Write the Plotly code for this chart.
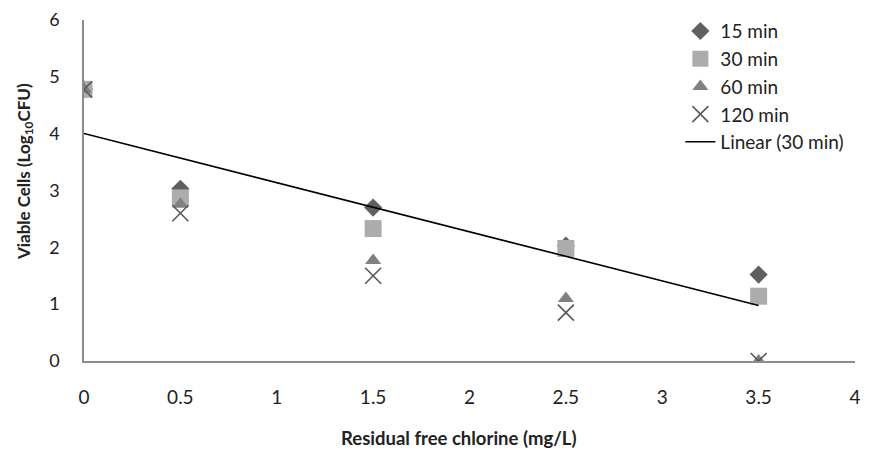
import numpy as np
import plotly.graph_objects as go

chlorine = [0, 0.5, 1.5, 2.5, 3.5]
min15 = [4.78, 3.03, 2.70, 2.03, 1.52]
min30 = [4.78, 2.87, 2.33, 1.98, 1.14]
min60 = [4.78, 2.76, 1.77, 1.10, 0.0]
min120 = [4.78, 2.60, 1.50, 0.85, 0.0]

x_ticks = [0, 0.5, 1, 1.5, 2, 2.5, 3, 3.5, 4]
x_tick_text = ["0", "0.5", "1", "1.5", "2", "2.5", "3", "3.5", "4"]
y_ticks = [0, 1, 2, 3, 4, 5, 6]

x_title = "<b>Residual free chlorine (mg/L)</b>"
y_title = "<b>Viable Cells (Log<sub>10</sub>CFU)</b>"

slope, intercept = np.polyfit(chlorine, min30, 1)
fit_x = [chlorine[0], chlorine[-1]]
fit_y = [intercept + slope * v for v in fit_x]

FONT = "Lato, 'Open Sans', sans-serif"

fig = go.Figure()
fig.add_trace(go.Scatter(x=chlorine, y=min15, mode="markers", name="15 min",
                         marker=dict(symbol="diamond", size=14, color="#5f5f5f")))
fig.add_trace(go.Scatter(x=chlorine, y=min30, mode="markers", name="30 min",
                         marker=dict(symbol="square", size=17, color="#acacac")))
fig.add_trace(go.Scatter(x=chlorine, y=min60, mode="markers", name="60 min",
                         marker=dict(symbol="triangle-up", size=14, color="#808080")))
fig.add_trace(go.Scatter(x=chlorine, y=min120, mode="markers", name="120 min",
                         marker=dict(symbol="x-thin", size=16,
                                     line=dict(color="#595959", width=1.6))))
fig.add_trace(go.Scatter(x=fit_x, y=fit_y, mode="lines", name="Linear (30 min)",
                         line=dict(color="black", width=1.6)))

fig.update_layout(
    width=874, height=459,
    margin=dict(l=76, r=27, t=12, b=106, autoexpand=False),
    paper_bgcolor="white", plot_bgcolor="white",
    font=dict(family=FONT, size=19, color="#222222"),
    showlegend=True,
    legend=dict(x=0.7735, y=1.023, xanchor="left", yanchor="top",
                bgcolor="rgba(0,0,0,0)", font=dict(size=19, color="#222222"),
                tracegroupgap=0, itemwidth=30),
    xaxis=dict(range=[0, 4], tickvals=x_ticks, ticktext=x_tick_text,
               showgrid=False, zeroline=False, showline=True,
               linecolor="#8c8c8c", linewidth=1.5, ticks="",
               ticklabelstandoff=18, ticklabeloverflow="allow"),
    yaxis=dict(range=[0, 6], tickvals=y_ticks, tickfont=dict(size=18),
               showgrid=False, zeroline=False, showline=True,
               linecolor="#8c8c8c", linewidth=1.5, ticks="",
               ticklabelstandoff=19, ticklabeloverflow="allow"),
    annotations=[
        dict(text=x_title, xref="paper", yref="paper", x=0.486, y=-0.227,
             xanchor="center", yanchor="middle", showarrow=False,
             font=dict(size=18.5, color="#222222")),
        dict(text=y_title, xref="paper", yref="paper", x=-0.0765, y=0.554,
             xanchor="center", yanchor="middle", showarrow=False, textangle=-90,
             font=dict(size=17, color="#222222")),
    ],
)

fig.write_html("out.html")
